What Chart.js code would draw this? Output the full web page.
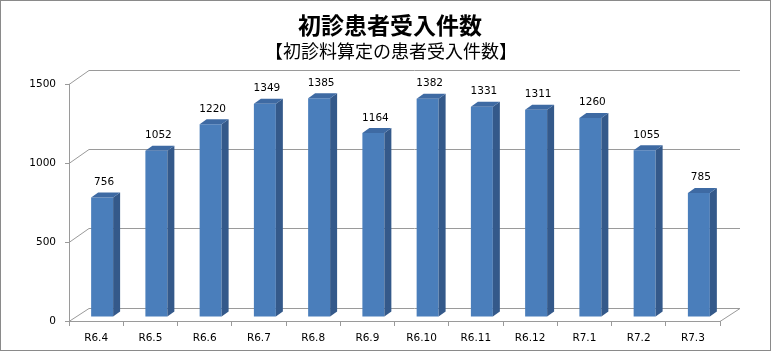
<!DOCTYPE html>
<html>
<head>
<meta charset="utf-8">
<script src="https://cdn.jsdelivr.net/npm/chart.js@4.4.0/dist/chart.umd.min.js"></script>
<style>
  html, body { margin: 0; padding: 0; background: #fff; }
  #wrap { width: 772px; height: 354px; }
</style>
</head>
<body>
<div id="wrap"><canvas id="grafico" width="772" height="354"></canvas></div>
<script>
// データ
const tsuki = ['R6.4', 'R6.5', 'R6.6', 'R6.7', 'R6.8', 'R6.9', 'R6.10', 'R6.11', 'R6.12', 'R7.1', 'R7.2', 'R7.3'];
const kensu = [756, 1052, 1220, 1349, 1385, 1164, 1382, 1331, 1311, 1260, 1055, 785];
const yTicks = [0, 500, 1000, 1500];

const titulo = '初診患者受入件数';
const subtitulo = '【初診料算定の患者受入件数】';

// 3D のずれ
const PARED = { dx: 20, dy: -14 };  // 奥の壁
const BARRA = { dx: 6, dy: -4 };    // 棒の位置
const FONDO = { dx: 7, dy: -5 };    // 棒の奥行き

const plugin3d = {
  id: 'plugin3d',
  beforeDraw(chart) {
    const ctx = chart.ctx;
    ctx.save();
    ctx.fillStyle = '#fff';
    ctx.fillRect(0, 0, chart.width, chart.height);
    // 枠
    ctx.strokeStyle = '#8a8a8a';
    ctx.lineWidth = 1;
    ctx.strokeRect(0.5, 0.5, 770, 350);
    // タイトル
    ctx.fillStyle = '#000';
    ctx.textAlign = 'center';
    ctx.textBaseline = 'middle';
    ctx.font = 'bold 23px "Noto Sans CJK JP"';
    ctx.fillText(titulo, 390, 25);
    ctx.font = '18px "Noto Sans CJK JP"';
    ctx.fillText(subtitulo, 391, 51);
    ctx.restore();
  },
  beforeDatasetsDraw(chart) {
    const ctx = chart.ctx;
    const x = chart.scales.x, y = chart.scales.y;
    const left = x.left, right = x.right;
    ctx.save();
    ctx.strokeStyle = '#9a9a9a';
    ctx.lineWidth = 1;
    yTicks.forEach(v => {
      const py = Math.round(y.getPixelForValue(v)) + 0.5;
      const dy = v === 0 ? PARED.dy + 1 : PARED.dy;
      ctx.beginPath();
      ctx.moveTo(left, py);
      ctx.lineTo(left + PARED.dx, py + dy);
      ctx.lineTo(right + PARED.dx, py + dy);
      if (v === 0) ctx.lineTo(right, py);
      ctx.stroke();
    });
    ctx.restore();
    ctx.save();
    ctx.translate(BARRA.dx, BARRA.dy);
  },
  afterDatasetsDraw(chart) {
    const ctx = chart.ctx;
    const meta = chart.getDatasetMeta(0);
    meta.data.forEach((bar, i) => {
      const w = bar.width;
      const l = bar.x - w / 2, r = bar.x + w / 2;
      // 側面
      ctx.fillStyle = '#34598a';
      ctx.beginPath();
      ctx.moveTo(r, bar.y);
      ctx.lineTo(r + FONDO.dx, bar.y + FONDO.dy);
      ctx.lineTo(r + FONDO.dx, bar.base + FONDO.dy);
      ctx.lineTo(r, bar.base);
      ctx.closePath();
      ctx.fill();
      // 上面
      ctx.fillStyle = '#3e6aa3';
      ctx.beginPath();
      ctx.moveTo(l, bar.y);
      ctx.lineTo(l + FONDO.dx, bar.y + FONDO.dy);
      ctx.lineTo(r + FONDO.dx, bar.y + FONDO.dy);
      ctx.lineTo(r, bar.y);
      ctx.closePath();
      ctx.fill();
      // 数値
      ctx.fillStyle = '#000';
      ctx.font = '10.5px "DejaVu Sans"';
      ctx.textAlign = 'center';
      ctx.textBaseline = 'bottom';
      ctx.fillText(String(kensu[i]), bar.x + 2, bar.y + FONDO.dy - 5);
    });
    ctx.restore();
  }
};

new Chart(document.getElementById('grafico'), {
  type: 'bar',
  data: {
    labels: tsuki,
    datasets: [{
      data: kensu,
      backgroundColor: '#4a7ebb',
      borderWidth: 0,
      categoryPercentage: 1,
      barPercentage: 0.405
    }]
  },
  options: {
    responsive: false,
    animation: false,
    devicePixelRatio: 1,
    layout: { padding: { left: 0, top: 84, right: 52, bottom: 0 } },
    plugins: {
      legend: { display: false },
      tooltip: { enabled: false },
      title: { display: false }
    },
    scales: {
      x: {
        afterFit(scale) { scale.height = 33; },
        grid: { offset: true, drawOnChartArea: false, tickLength: 5, color: '#9a9a9a' },
        border: { display: true, color: '#9a9a9a' },
        ticks: { color: '#000', font: { family: 'DejaVu Sans', size: 10.5 }, padding: 6, maxRotation: 0 }
      },
      y: {
        min: 0,
        max: 1500,
        afterFit(scale) { scale.width = 69; },
        afterBuildTicks(scale) { scale.ticks = yTicks.map(v => ({ value: v })); },
        grid: { drawOnChartArea: false, tickLength: 4, color: '#9a9a9a' },
        border: { display: true, color: '#9a9a9a' },
        ticks: {
          color: '#000',
          font: { family: 'DejaVu Sans', size: 10.5 },
          padding: 9,
          callback: v => String(v)
        }
      }
    }
  },
  plugins: [plugin3d]
});
</script>
</body>
</html>
